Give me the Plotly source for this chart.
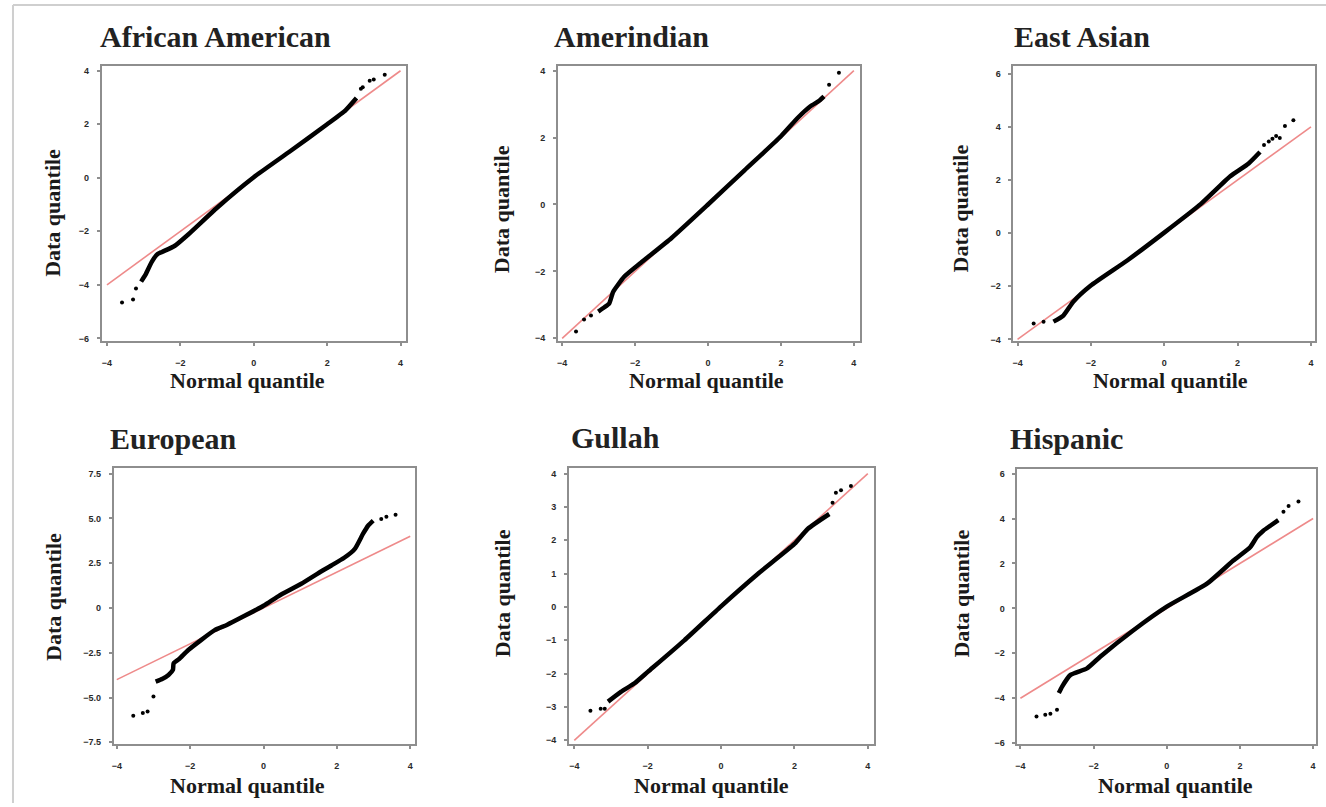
import plotly.graph_objects as go

W, H = 1326, 807

# ---- panel titles -------------------------------------------------------
TITLES = ["African American", "Amerindian", "East Asian", "European", "Gullah", "Hispanic"]

# ---- quantile pairs (normal quantile, data quantile) --------------------
# dense body of each Q-Q curve
AA_X = [-3.07, -2.95, -2.78, -2.62, -2.50, -2.15, -1.77, -1.0, 0.0, 1.0, 2.0, 2.5, 2.80]
AA_Y = [-3.88, -3.62, -3.14, -2.85, -2.77, -2.54, -2.10, -1.12, 0.02, 1.0, 2.0, 2.52, 2.98]
AM_X = [-3.01, -2.85, -2.71, -2.60, -2.30, -1.84, -1.0, 0.0, 1.0, 2.0, 2.47, 2.8, 3.05, 3.18]
AM_Y = [-3.20, -3.08, -2.96, -2.61, -2.16, -1.74, -1.0, 0.0, 1.02, 2.04, 2.60, 2.93, 3.10, 3.23]
EA_X = [-3.02, -2.75, -2.48, -2.01, -1.0, 0.0, 1.0, 1.80, 2.3, 2.61]
EA_Y = [-3.33, -3.10, -2.58, -1.98, -1.02, 0.02, 1.10, 2.14, 2.62, 3.05]
EU_X = [-2.94, -2.75, -2.59, -2.47, -2.45, -2.30, -2.05, -1.33, -1.0, 0.0, 0.40, 1.03, 1.58, 1.85, 2.2, 2.49, 2.71, 2.85, 2.99]
EU_Y = [-4.11, -3.95, -3.74, -3.46, -3.09, -2.85, -2.35, -1.24, -0.95, 0.12, 0.65, 1.35, 2.05, 2.37, 2.80, 3.30, 4.13, 4.59, 4.87]
GU_X = [-3.08, -2.72, -2.36, -1.99, -1.0, 0.0, 1.0, 2.0, 2.36, 2.95]
GU_Y = [-2.84, -2.54, -2.29, -1.94, -1.0, 0.02, 0.99, 1.89, 2.34, 2.79]
HI_X = [-2.95, -2.86, -2.63, -2.18, -1.82, -0.91, 0.0, 1.10, 1.82, 2.28, 2.46, 2.64, 2.83, 3.05]
HI_Y = [-3.77, -3.48, -2.96, -2.67, -2.15, -0.97, 0.08, 1.10, 2.13, 2.72, 3.17, 3.46, 3.68, 3.93]

# isolated points in the tails
AA_TX = [-3.59, -3.29, -3.21, 2.92, 2.97, 3.16, 3.27, 3.57]
AA_TY = [-4.66, -4.55, -4.14, 3.33, 3.38, 3.63, 3.67, 3.85]
AM_TX = [-3.62, -3.40, -3.21, 3.32, 3.59]
AM_TY = [-3.80, -3.44, -3.32, 3.58, 3.94]
EA_TX = [-3.56, -3.29, 2.72, 2.85, 2.95, 3.05, 3.15, 3.29, 3.52]
EA_TY = [-3.40, -3.33, 3.32, 3.45, 3.55, 3.65, 3.58, 4.03, 4.25]
EU_TX = [-3.55, -3.29, -3.16, -3.0, 3.21, 3.35, 3.60]
EU_TY = [-6.02, -5.87, -5.78, -4.94, 4.96, 5.09, 5.20]
GU_TX = [-3.56, -3.28, -3.17, 3.04, 3.13, 3.27, 3.54]
GU_TY = [-3.11, -3.05, -3.05, 3.13, 3.43, 3.50, 3.63]
HI_TX = [-3.56, -3.32, -3.18, -3.0, 3.19, 3.33, 3.60]
HI_TY = [-4.81, -4.73, -4.69, -4.51, 4.30, 4.56, 4.76]

# reference line y = x
REF_X = [-4, 4]
REF_Y = [-4, 4]

# axis ticks
X_TICKS = [-4, -2, 0, 2, 4]
Y_TICKS = [
    [-6, -4, -2, 0, 2, 4],
    [-4, -2, 0, 2, 4],
    [-4, -2, 0, 2, 4, 6],
    [-7.5, -5.0, -2.5, 0, 2.5, 5.0, 7.5],
    [-4, -3, -2, -1, 0, 1, 2, 3, 4],
    [-6, -4, -2, 0, 2, 4, 6],
]
Y_TICKTEXT = [
    None, None, None,
    ["\u22127.5", "\u22125.0", "\u22122.5", "0", "2.5", "5.0", "7.5"],
    None, None,
]

BODIES = [(AA_X, AA_Y), (AM_X, AM_Y), (EA_X, EA_Y), (EU_X, EU_Y), (GU_X, GU_Y), (HI_X, HI_Y)]
TAILS = [(AA_TX, AA_TY), (AM_TX, AM_TY), (EA_TX, EA_TY), (EU_TX, EU_TY), (GU_TX, GU_TY), (HI_TX, HI_TY)]

# ---- layout geometry (pixels) -------------------------------------------
BOX = [  # left, right, top, bottom
    (100, 405, 66, 343),
    (557, 859, 66, 343),
    (1013, 1315, 66, 343),
    (112, 414, 470, 748),
    (568, 873, 470, 748),
    (1017, 1316, 471, 748),
]
XRANGE = [(-4.14, 4.16), (-4.11, 4.16), (-4.11, 4.11), (-4.08, 4.14), (-4.14, 4.16), (-4.08, 4.08)]
YRANGE = [(-6.11, 4.19), (-4.09, 4.15), (-4.07, 6.30), (-7.61, 7.83), (-4.12, 4.18), (-6.05, 6.22)]
TITLE_POS = [(96, 37), (551, 37), (1012, 37), (106, 441), (568, 440), (1008, 441)]
XLAB_POS = [(246, 382), (706, 382), (1170, 382), (246, 789), (711, 789), (1175, 789)]
YLAB_POS = [(51, 214), (501, 210), (960, 210), (51, 600), (501, 596), (960, 597)]


def px(x):
    return x / W


def py(y):
    return 1 - y / H


SERIF = "Liberation Serif"
FRAME = "#8e8e8e"
TICKFONT = dict(family="Liberation Sans", size=9, color="#2a2a2a", weight="bold")

fig = go.Figure()
layout = dict(
    width=W, height=H,
    margin=dict(l=0, r=0, t=0, b=0),
    paper_bgcolor="white", plot_bgcolor="white",
    showlegend=False,
)

annotations = []
for i in range(6):
    k = "" if i == 0 else str(i + 1)
    l, r, t, b = BOX[i]
    layout["xaxis" + k] = dict(
        domain=[px(l), px(r)], range=list(XRANGE[i]), anchor="y" + k,
        showline=True, mirror=True, linecolor=FRAME, linewidth=2,
        ticks="outside", ticklen=3, tickwidth=1.5, tickcolor=FRAME,
        tickvals=X_TICKS, showgrid=False, zeroline=False,
        ticklabelstandoff=9, tickfont=TICKFONT,
    )
    yax = dict(
        domain=[py(b), py(t)], range=list(YRANGE[i]), anchor="x" + k,
        showline=True, mirror=True, linecolor=FRAME, linewidth=2,
        ticks="outside", ticklen=3, tickwidth=1.5, tickcolor=FRAME,
        tickvals=Y_TICKS[i], showgrid=False, zeroline=False,
        ticklabelstandoff=6, tickfont=TICKFONT,
    )
    if Y_TICKTEXT[i] is not None:
        yax["ticktext"] = Y_TICKTEXT[i]
    layout["yaxis" + k] = yax

    xa, ya = "x" + k, "y" + k
    fig.add_trace(go.Scatter(x=REF_X, y=REF_Y, xaxis=xa, yaxis=ya, mode="lines",
                             line=dict(color="#ee8a8a", width=1.6), hoverinfo="skip"))
    bx, by = BODIES[i]
    fig.add_trace(go.Scatter(x=bx, y=by, xaxis=xa, yaxis=ya, mode="lines",
                             line=dict(color="black", width=4.5, shape="spline", smoothing=0.5),
                             hoverinfo="skip"))
    tx, ty = TAILS[i]
    fig.add_trace(go.Scatter(x=tx, y=ty, xaxis=xa, yaxis=ya, mode="markers",
                             marker=dict(color="black", size=4), hoverinfo="skip"))

    annotations.append(dict(
        text=TITLES[i], x=px(TITLE_POS[i][0]), y=py(TITLE_POS[i][1]),
        xref="paper", yref="paper", xanchor="left", yanchor="middle", showarrow=False,
        font=dict(family=SERIF, size=30, color="#222222", weight="bold"),
    ))
    annotations.append(dict(
        text="Normal quantile", x=px(XLAB_POS[i][0]), y=py(XLAB_POS[i][1]),
        xref="paper", yref="paper", xanchor="center", yanchor="middle", showarrow=False,
        font=dict(family=SERIF, size=22, color="#1a1a1a", weight="bold"),
    ))
    annotations.append(dict(
        text="Data quantile", x=px(YLAB_POS[i][0]), y=py(YLAB_POS[i][1]),
        xref="paper", yref="paper", xanchor="center", yanchor="middle", showarrow=False,
        textangle=-90,
        font=dict(family=SERIF, size=22, color="#1a1a1a", weight="bold"),
    ))

layout["annotations"] = annotations
# light outer frame along the top and left edges
layout["shapes"] = [
    dict(type="line", xref="paper", yref="paper", x0=px(11), x1=1.0, y0=py(5), y1=py(5),
         line=dict(color="#cfcfcf", width=2)),
    dict(type="line", xref="paper", yref="paper", x0=px(11), x1=px(11), y0=py(5), y1=0,
         line=dict(color="#cfcfcf", width=2)),
]
fig.update_layout(**layout)
fig.write_html("out.html")
